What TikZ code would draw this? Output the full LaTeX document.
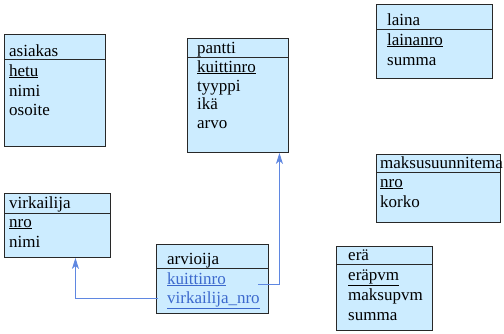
\documentclass[tikz,border=0pt]{standalone}
\usepackage{fontspec}
\setmainfont{Liberation Serif}
\newfontfamily\boxfont{Liberation Serif}
\usetikzlibrary{arrows.meta}
\definecolor{boxblue}{RGB}{204,236,255}
\definecolor{boxline}{RGB}{40,40,40}
\definecolor{fkline}{RGB}{95,135,225}
\definecolor{fktext}{RGB}{60,105,205}
\tikzset{
  entity/.style={draw=boxline, fill=boxblue, line width=0.9pt, inner sep=0pt, anchor=north west},
  sep/.style={draw=boxline, line width=0.9pt},
  lbl/.style={anchor=base west, inner sep=0pt, font=\boxfont\fontsize{17}{20}\selectfont, text=black},
  fklbl/.style={lbl, text=fktext},
  fk/.style={draw=fkline, line width=1pt, -{Stealth[length=11pt,width=7pt,inset=3pt]}}
}
\begin{document}
\begin{tikzpicture}[x=1pt,y=-1pt]
\useasboundingbox (0,0) rectangle (504,333);
% asiakas
\node[entity, minimum width=101pt, minimum height=112pt] (asiakas) at (4,34) {};
\draw[sep] (asiakas.west |- 0,59) -- (asiakas.east |- 0,59);
\node[lbl] (as-t) at (9,56) {asiakas};
\node[lbl] (as-1) at (9,76) {\underline{hetu}};
\node[lbl] (as-2) at (9,96) {nimi};
\node[lbl] (as-3) at (9,115) {osoite};
% pantti
\node[entity, minimum width=101pt, minimum height=114pt] (pantti) at (187,38) {};
\draw[sep] (pantti.west |- 0,57) -- (pantti.east |- 0,57);
\node[lbl] (pa-t) at (197,53) {pantti};
\node[lbl] (pa-1) at (197,72) {\underline{kuittinro}};
\node[lbl] (pa-2) at (197,91) {tyyppi};
\node[lbl] (pa-3) at (197,109) {ikä};
\node[lbl] (pa-4) at (197,128) {arvo};
% laina
\node[entity, minimum width=116pt, minimum height=74pt] (laina) at (376,4) {};
\draw[sep] (laina.west |- 0,29) -- (laina.east |- 0,29);
\node[lbl] (la-t) at (387,25) {laina};
\node[lbl] (la-1) at (387,45) {\underline{lainanro}};
\node[lbl] (la-2) at (387,65) {summa};
% maksusuunnitema
\node[entity, minimum width=124pt, minimum height=68pt] (maksu) at (376,154) {};
\draw[sep] (maksu.west |- 0,172) -- (maksu.east |- 0,172);
\node[lbl] (ma-t) at (380,168) {maksusuunnitema};
\node[lbl] (ma-1) at (380,187) {\underline{nro}};
\node[lbl] (ma-2) at (380,207) {korko};
% virkailija
\node[entity, minimum width=106pt, minimum height=64pt] (virk) at (4,193) {};
\draw[sep] (virk.west |- 0,213) -- (virk.east |- 0,213);
\node[lbl] (vi-t) at (9,208) {virkailija};
\node[lbl] (vi-1) at (9,227) {\underline{nro}};
\node[lbl] (vi-2) at (9,247) {nimi};
% arvioija
\node[entity, minimum width=112pt, minimum height=69pt] (arv) at (156,244) {};
\draw[sep] (arv.west |- 0,268) -- (arv.east |- 0,268);
\node[lbl] (ar-t) at (167,264) {arvioija};
\node[fklbl] (ar-1) at (167,284) {\underline{kuittinro}};
\node[fklbl] (ar-2) at (167,303) {\underline{virkailija\_nro}};
% erä
\node[entity, minimum width=96pt, minimum height=84pt] (era) at (336,246) {};
\draw[sep] (era.west |- 0,264) -- (era.east |- 0,264);
\node[lbl] (er-t) at (348,260) {erä};
\node[lbl] (er-1) at (348,280) {\underline{eräpvm}};
\node[lbl] (er-2) at (348,300) {maksupvm};
\node[lbl] (er-3) at (348,320) {summa};
% connectors
\coordinate (kstart) at (258,284);
\coordinate (vstart) at (158,298);
\draw[fk] (kstart) -| ([xshift=41.5pt]pantti.south);
\draw[fk] (vstart) -| ([xshift=18pt]virk.south);
\end{tikzpicture}
\end{document}
